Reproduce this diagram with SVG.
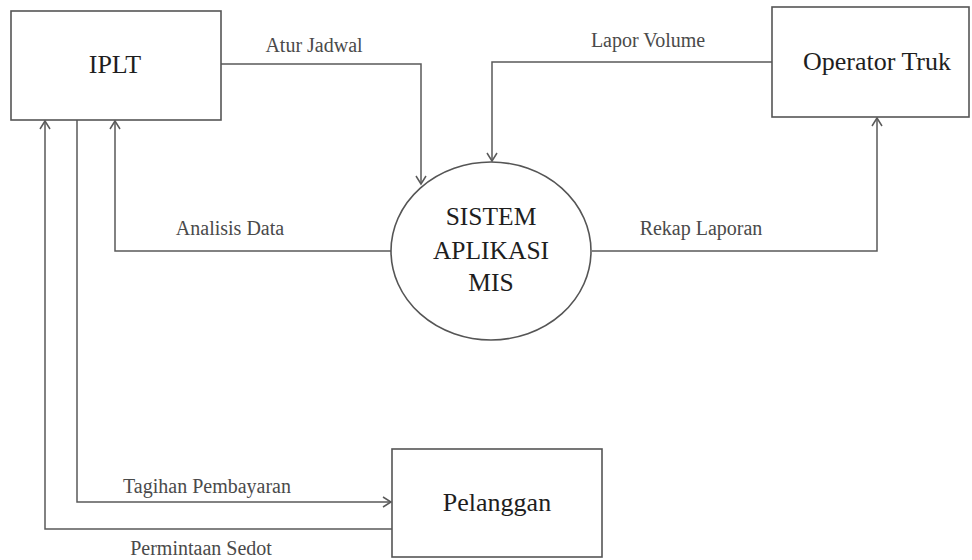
<svg xmlns="http://www.w3.org/2000/svg" width="972" height="560" viewBox="0 0 972 560">
  <style>
    .box { fill: #ffffff; stroke: #555555; stroke-width: 1.6; }
    .flow { fill: none; stroke: #5a5a5a; stroke-width: 1.5; }
    .node-text { font-family: "Liberation Serif", "Times New Roman", serif; font-size: 26px; fill: #1e1e1e; text-anchor: middle; }
    .flow-text { font-family: "Liberation Serif", "Times New Roman", serif; font-size: 20px; fill: #4a4a4a; text-anchor: middle; }
  </style>
  <defs>
    <marker id="arrow" markerUnits="userSpaceOnUse" markerWidth="14" markerHeight="14" refX="0" refY="0" viewBox="-10 -7 12 14" orient="auto">
      <path d="M -8 -5 L 0 0 L -8 5" fill="none" stroke="#5a5a5a" stroke-width="1.5"/>
    </marker>
  </defs>
  <rect width="972" height="560" fill="#ffffff"/>

  <!-- Data flows -->
  <g id="connectors">
    <!-- Atur Jadwal: IPLT to system -->
    <polyline class="flow" points="221,64 421,64 421,184" marker-end="url(#arrow)"/>
    <!-- Lapor Volume: Operator Truk to system -->
    <polyline class="flow" points="772,62 492,62 492,161" marker-end="url(#arrow)"/>
    <!-- Analisis Data: system to IPLT -->
    <polyline class="flow" points="391,251 115,251 115,121" marker-end="url(#arrow)"/>
    <!-- Rekap Laporan: system to Operator Truk -->
    <polyline class="flow" points="592,251 877,251 877,118" marker-end="url(#arrow)"/>
    <!-- Tagihan Pembayaran: IPLT to Pelanggan -->
    <polyline class="flow" points="77,120 77,502 391,502" marker-end="url(#arrow)"/>
    <!-- Permintaan Sedot: Pelanggan to IPLT -->
    <polyline class="flow" points="392,529 45,529 45,121" marker-end="url(#arrow)"/>

    <text class="flow-text" x="314" y="52">Atur Jadwal</text>
    <text class="flow-text" x="648" y="47">Lapor Volume</text>
    <text class="flow-text" x="230" y="235">Analisis Data</text>
    <text class="flow-text" x="701" y="235">Rekap Laporan</text>
    <text class="flow-text" x="207" y="493">Tagihan Pembayaran</text>
    <text class="flow-text" x="201" y="555">Permintaan Sedot</text>
  </g>

  <g id="iplt">
    <rect class="box" x="11" y="11" width="210" height="109"/>
    <text class="node-text" x="115" y="73">IPLT</text>
  </g>

  <g id="operator-truk">
    <rect class="box" x="772" y="7" width="197" height="110"/>
    <text class="node-text" x="877" y="70">Operator Truk</text>
  </g>

  <g id="pelanggan">
    <rect class="box" x="392" y="449" width="210" height="108"/>
    <text class="node-text" x="497" y="511">Pelanggan</text>
  </g>

  <g id="sistem-aplikasi-mis">
    <ellipse class="box" cx="491" cy="251" rx="100" ry="89"/>
    <text class="node-text" x="491" y="225" style="font-size:25.5px">SISTEM</text>
    <text class="node-text" x="491" y="259" style="font-size:25.5px">APLIKASI</text>
    <text class="node-text" x="491" y="291" style="font-size:25.5px">MIS</text>
  </g>
</svg>
